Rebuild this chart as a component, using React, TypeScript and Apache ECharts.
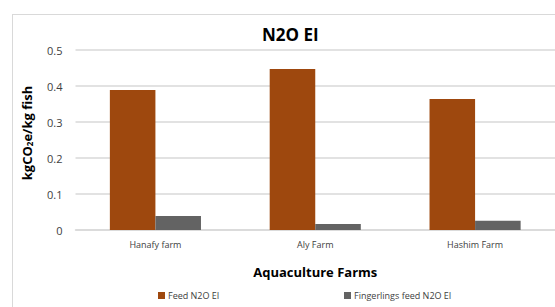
import React, { useEffect, useRef } from "react";
import * as echarts from "echarts";

const categories = ["Hanafy farm", "Aly Farm", "Hashim Farm"];
const feedN2O = [0.389, 0.447, 0.364];
const fingerlingsN2O = [0.039, 0.017, 0.026];
const seriesNames = ["Feed N2O EI", "Fingerlings feed N2O EI"];

const FONT = "'Open Sans', 'Liberation Sans', sans-serif";

export default function App() {
  const ref = useRef<HTMLDivElement>(null);
  useEffect(() => {
    document.documentElement.style.overflow = "hidden";
    document.body.style.overflow = "hidden";
    document.body.style.margin = "0";
    if (!ref.current) return;
    const chart = echarts.init(ref.current, undefined, { renderer: "svg" });
    chart.setOption({
      animation: false,
      textStyle: { fontFamily: FONT },
      title: {
        text: "N2O EI",
        left: 257,
        top: 21,
        textStyle: { fontFamily: FONT, fontSize: 17, fontWeight: "bold", color: "#000" },
      },
      legend: [
        {
          data: [seriesNames[0]],
          left: 153,
          top: 286,
          itemWidth: 7,
          itemHeight: 7,
          itemGap: 4,
          icon: "rect",
          textStyle: { fontFamily: FONT, fontSize: 9, color: "#404040", padding: [0, 0, 0, -2] },
        },
        {
          data: [seriesNames[1]],
          left: 339,
          top: 286,
          itemWidth: 7,
          itemHeight: 7,
          itemGap: 4,
          icon: "rect",
          textStyle: { fontFamily: FONT, fontSize: 9, color: "#404040", padding: [0, 0, 0, -2] },
        },
      ],
      grid: { left: 75.5, top: 50, width: 481, height: 180, containLabel: false },
      xAxis: {
        type: "category",
        data: categories,
        axisLine: { lineStyle: { color: "#d9d9d9", width: 1.5 } },
        axisTick: { show: false },
        axisLabel: { fontFamily: FONT, fontSize: 9, color: "#404040", margin: 10 },
        name: "Aquaculture Farms",
        nameLocation: "middle",
        nameGap: 35,
        nameTextStyle: { fontFamily: FONT, fontSize: 13, fontWeight: "bold", color: "#000" },
      },
      yAxis: {
        type: "value",
        min: 0,
        max: 0.5,
        interval: 0.1,
        axisLine: { show: false },
        axisTick: { show: false },
        splitLine: { lineStyle: { color: "#d9d9d9", width: 1.5 } },
        axisLabel: { fontFamily: FONT, fontSize: 11, color: "#404040", margin: 13 },
        name: "{a|kgCO}{s|2}{a|e/kg fish}",
        nameLocation: "middle",
        nameGap: 42,
        nameRotate: 90,
        nameTextStyle: {
          padding: [0, 0, 0, 14],
          rich: {
            a: { fontFamily: FONT, fontSize: 13, fontWeight: "bold", color: "#000" },
            s: { fontFamily: FONT, fontSize: 8, fontWeight: "bold", color: "#000", padding: [6, 0, 0, 0] },
          },
        },
      },
      series: [
        {
          name: seriesNames[0],
          type: "bar",
          data: feedN2O,
          barGap: "0%",
          barCategoryGap: "43%",
          itemStyle: { color: "#9e480e" },
        },
        {
          name: seriesNames[1],
          type: "bar",
          data: fingerlingsN2O,
          barGap: "0%",
          barCategoryGap: "43%",
          itemStyle: { color: "#636363" },
        },
      ],
    });
    return () => chart.dispose();
  }, []);
  return (
    <div style={{ position: "absolute", left: 0, top: 0, width: 555, height: 307, overflow: "hidden", background: "#fff" }}>
      <div
        style={{
          position: "absolute",
          left: 12,
          top: 14,
          width: 700,
          height: 400,
          borderLeft: "1px solid #d9d9d9",
          borderTop: "1px solid #d9d9d9",
        }}
      />
      <div ref={ref} style={{ position: "absolute", left: 0, top: 0, width: 555, height: 307 }} />
    </div>
  );
}
